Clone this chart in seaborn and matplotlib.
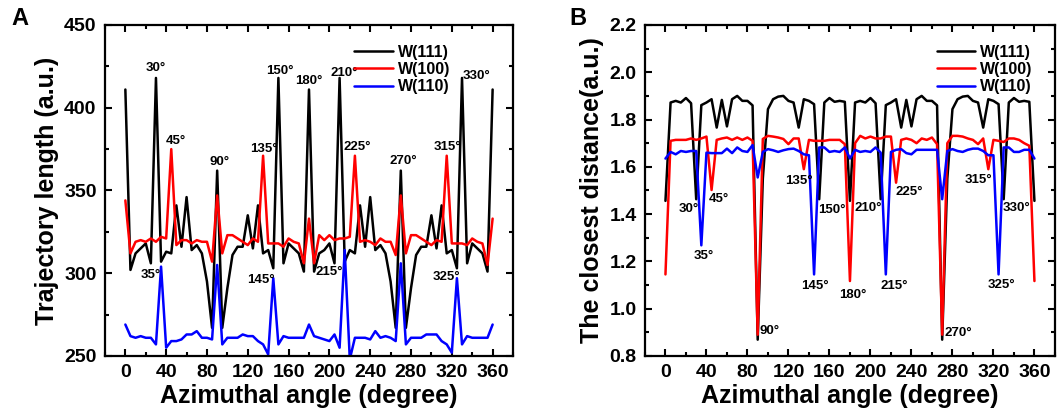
import matplotlib
matplotlib.use("Agg")
import matplotlib.pyplot as plt
from matplotlib.ticker import MultipleLocator
import seaborn as sns
import pandas as pd

# azimuthal angles, every 5 degrees
angles = list(range(0, 365, 5))
series_names = ["W(111)", "W(100)", "W(110)"]
colors = ["black", "red", "blue"]

# Panel A - trajectory length (a.u.)
traj_111 = [411, 302, 312, 315, 318, 306, 418, 307, 313, 312, 341, 316, 346, 314, 317, 312, 295, 267, 362,
            267, 291, 311, 316, 316, 335, 315, 341, 312, 314, 303, 418, 306, 318, 315, 312, 301, 411,
            301, 312, 314, 318, 306, 418, 307, 314, 312, 341, 316, 346, 314, 317, 312, 295, 267, 362,
            267, 291, 311, 316, 316, 335, 315, 341, 312, 314, 303, 418, 306, 318, 315, 312, 301, 411]
traj_100 = [344, 312, 319, 320, 319, 321, 319, 322, 321, 375, 317, 320, 320, 318, 320, 319, 319, 307, 347,
            312, 323, 323, 321, 319, 317, 321, 319, 371, 318, 318, 318, 316, 321, 319, 318, 306, 333,
            306, 323, 320, 323, 320, 321, 321, 322, 371, 319, 320, 319, 317, 321, 319, 319, 311, 347,
            312, 323, 323, 321, 319, 317, 320, 319, 371, 318, 318, 318, 317, 321, 319, 318, 305, 333]
traj_110 = [269, 262, 261, 262, 261, 261, 257, 304, 255, 259, 259, 260, 263, 263, 265, 261, 261, 260, 305,
            257, 261, 261, 261, 263, 262, 262, 259, 257, 251, 297, 257, 262, 261, 261, 261, 261, 269,
            262, 261, 260, 259, 263, 255, 314, 248, 261, 261, 261, 260, 265, 261, 262, 261, 259, 306,
            257, 261, 261, 261, 263, 263, 263, 259, 257, 252, 297, 257, 262, 261, 261, 261, 261, 269]

# Panel B - closest distance (a.u.)
dist_111 = [1.456, 1.872, 1.879, 1.872, 1.891, 1.869, 1.463, 1.861, 1.872, 1.886, 1.766, 1.883, 1.771, 1.886, 1.900, 1.879, 1.879, 1.860, 0.869,
            1.550, 1.844, 1.886, 1.897, 1.900, 1.879, 1.872, 1.766, 1.886, 1.879, 1.865, 1.463, 1.872, 1.891, 1.875, 1.879, 1.875, 1.456,
            1.872, 1.879, 1.872, 1.891, 1.869, 1.463, 1.861, 1.872, 1.886, 1.766, 1.883, 1.771, 1.886, 1.900, 1.879, 1.879, 1.860, 0.869,
            1.550, 1.844, 1.886, 1.897, 1.900, 1.879, 1.872, 1.766, 1.886, 1.879, 1.865, 1.463, 1.872, 1.891, 1.875, 1.879, 1.875, 1.456]
dist_100 = [1.145, 1.710, 1.714, 1.714, 1.714, 1.720, 1.714, 1.720, 1.728, 1.502, 1.714, 1.720, 1.724, 1.714, 1.724, 1.714, 1.724, 1.710, 0.890,
            1.718, 1.731, 1.728, 1.724, 1.718, 1.696, 1.720, 1.720, 1.590, 1.714, 1.710, 1.710, 1.710, 1.714, 1.714, 1.714, 1.696, 1.117,
            1.700, 1.731, 1.720, 1.728, 1.720, 1.720, 1.728, 1.728, 1.533, 1.714, 1.720, 1.714, 1.700, 1.720, 1.714, 1.724, 1.696, 0.890,
            1.700, 1.731, 1.731, 1.728, 1.720, 1.714, 1.696, 1.720, 1.590, 1.714, 1.710, 1.705, 1.720, 1.720, 1.714, 1.700, 1.689, 1.117]
dist_110 = [1.635, 1.663, 1.653, 1.667, 1.663, 1.667, 1.667, 1.268, 1.660, 1.658, 1.658, 1.658, 1.677, 1.658, 1.682, 1.667, 1.663, 1.692, 1.555,
            1.663, 1.675, 1.670, 1.663, 1.670, 1.675, 1.677, 1.667, 1.653, 1.649, 1.145, 1.682, 1.682, 1.663, 1.667, 1.663, 1.682, 1.635,
            1.672, 1.663, 1.667, 1.663, 1.682, 1.660, 1.145, 1.663, 1.672, 1.675, 1.658, 1.653, 1.672, 1.672, 1.672, 1.672, 1.672, 1.463,
            1.667, 1.675, 1.667, 1.663, 1.672, 1.677, 1.677, 1.667, 1.649, 1.649, 1.145, 1.682, 1.682, 1.663, 1.663, 1.672, 1.672, 1.635]

# peak labels (text, angle, value) for each panel
labels_a = [("30°", 30, 424), ("45°", 50, 380), ("90°", 92, 367), ("35°", 25, 299),
            ("135°", 136, 375), ("150°", 151, 422), ("145°", 133, 296), ("180°", 180, 416),
            ("210°", 215, 421), ("215°", 200, 301), ("225°", 227, 376), ("270°", 272, 368),
            ("315°", 316, 376), ("330°", 344, 419), ("325°", 315, 298)]
labels_b = [("30°", 23, 1.423), ("45°", 52, 1.463), ("35°", 37, 1.222), ("135°", 130, 1.54),
            ("90°", 102, 0.905), ("145°", 146, 1.095), ("150°", 162, 1.417), ("180°", 183, 1.06),
            ("210°", 198, 1.427), ("225°", 238, 1.494), ("215°", 223, 1.095), ("270°", 286, 0.898),
            ("315°", 305, 1.545), ("325°", 328, 1.10), ("330°", 343, 1.427)]


def long_df(values):
    rows = []
    for name, vals in zip(series_names, values):
        for a, v in zip(angles, vals):
            rows.append({"angle": a, "value": v, "series": name})
    return pd.DataFrame(rows)


sns.set_theme(style="ticks")
plt.rcParams["font.family"] = ["Liberation Sans", "DejaVu Sans"]
plt.rcParams["font.weight"] = "bold"
for key in ["text.color", "axes.labelcolor", "xtick.color", "ytick.color", "axes.edgecolor"]:
    plt.rcParams[key] = "black"

fig = plt.figure(figsize=(10.58, 4.19), dpi=100)
ax_a = fig.add_axes([0.0992, 0.1504, 0.3857, 0.790])
ax_b = fig.add_axes([0.6096, 0.1504, 0.3875, 0.790])


def draw_panel(ax, values, labels, ylim, ymajor, yminor, yfmt, ylabel, leg_anchor):
    df = long_df(values)
    sns.lineplot(data=df, x="angle", y="value", hue="series", hue_order=series_names,
                 palette=colors, linewidth=1.8, ax=ax)
    ax.set_xlim(-20, 380)
    ax.set_ylim(*ylim)
    ax.xaxis.set_major_locator(MultipleLocator(40))
    ax.xaxis.set_minor_locator(MultipleLocator(20))
    ax.yaxis.set_major_locator(MultipleLocator(ymajor))
    ax.yaxis.set_minor_locator(MultipleLocator(yminor))
    ax.yaxis.set_major_formatter(yfmt)
    ax.tick_params(which="both", direction="in", width=1.5, top=True, right=True, colors="black")
    ax.tick_params(which="major", length=5, labelsize=14, pad=6)
    ax.tick_params(which="minor", length=3)
    for lab in ax.get_xticklabels() + ax.get_yticklabels():
        lab.set_fontweight("bold")
    for sp in ax.spines.values():
        sp.set_linewidth(1.6)
        sp.set_color("black")
    ax.set_xlabel("Azimuthal angle (degree)", fontsize=18, fontweight="bold", labelpad=2, color="black")
    ax.set_ylabel(ylabel, fontsize=18, fontweight="bold", labelpad=4, color="black")
    for txt, x, y in labels:
        ax.text(x, y, txt, ha="center", va="center", fontsize=9.5, fontweight="bold", color="black")
    handles, names = ax.get_legend_handles_labels()
    leg = ax.legend(handles, names, loc="upper right", bbox_to_anchor=leg_anchor, frameon=False,
                    prop={"size": 11.5, "weight": "bold"}, handlelength=2.4, handletextpad=0.3,
                    labelspacing=0.15, borderpad=0)
    for t in leg.get_texts():
        t.set_color("black")


draw_panel(ax_a, [traj_111, traj_100, traj_110], labels_a, (250, 450), 50, 25,
           "{x:.0f}", "Trajectory length (a.u.)", (0.865, 0.965))
draw_panel(ax_b, [dist_111, dist_100, dist_110], labels_b, (0.8, 2.2), 0.2, 0.1,
           "{x:.1f}", "The closest distance(a.u.)", (0.965, 0.965))

fig.text(0.019, 0.957, "A", fontsize=17, fontweight="bold", ha="center", va="center", color="black")
fig.text(0.546, 0.957, "B", fontsize=17, fontweight="bold", ha="center", va="center", color="black")

fig.savefig("out.png", dpi=100)
